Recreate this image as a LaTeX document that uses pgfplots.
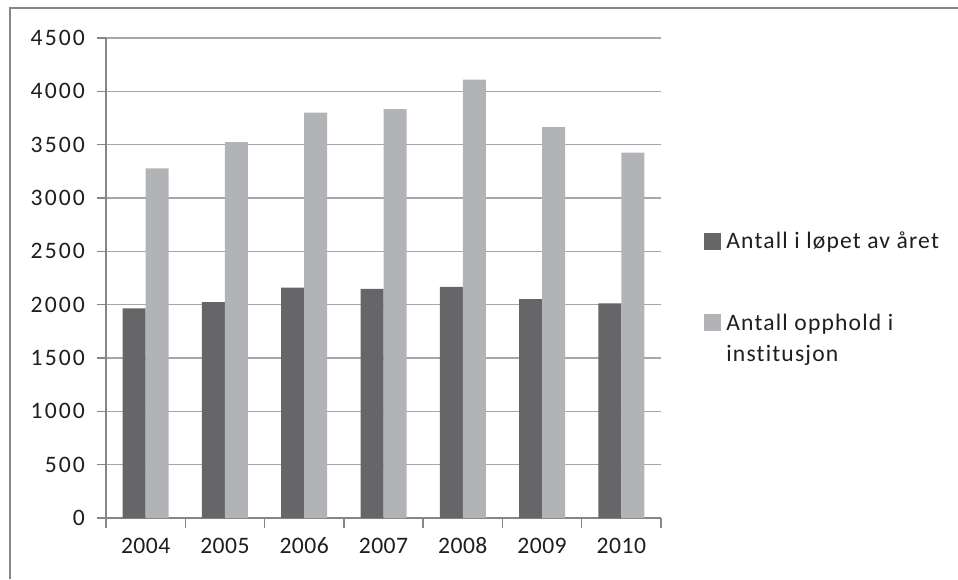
\documentclass[border=0pt]{standalone}
\usepackage{fontspec}
\setmainfont[Ligatures=NoCommon]{Carlito}
\newfontfamily\ysp[LetterSpace=9,Ligatures=NoCommon]{Carlito}
\newfontfamily\xsp[LetterSpace=2,Ligatures=NoCommon]{Carlito}
\newfontfamily\lsp[LetterSpace=5,Ligatures=NoCommon]{Carlito}
\usepackage{pgfplots}
\pgfplotsset{compat=1.18}
\definecolor{darkbar}{RGB}{102,102,104}
\definecolor{lightbar}{RGB}{178,179,183}
\definecolor{gridc}{RGB}{166,166,166}
\definecolor{axc}{RGB}{134,134,134}
\definecolor{txt}{RGB}{30,30,30}
\begin{document}
\begin{tikzpicture}
\path[use as bounding box] (0,0) rectangle (479pt,289.5pt);
\draw[axc, line width=0.75pt] (5pt,0) -- (5pt,285.5pt) -- (479pt,285.5pt);
\begin{axis}[
  at={(53pt,30.5pt)}, anchor=south west,
  scale only axis, width=277.5pt, height=240pt,
  xmin=-0.5, xmax=6.5, ymin=0, ymax=4500,
  ytick={0,500,...,4500},
  xtick={0,...,6}, xticklabels={2004,2005,2006,2007,2008,2009,2010},
  minor xtick={-0.5,0.5,...,6.5},
  axis lines=left,
  axis line style={-, axc, line width=0.75pt},
  ymajorgrids, major grid style={gridc, line width=0.75pt},
  tick align=outside,
  major tick length=4.5pt, minor tick length=5pt,
  every major x tick/.append style={draw=none},
  every minor x tick/.append style={axc, line width=0.75pt},
  every major y tick/.append style={axc, line width=0.75pt},
  ybar=0pt, bar width=11.5pt,
  tick label style={text=txt},
  /pgf/number format/assume math mode=true,
  /pgf/number format/1000 sep={},
  yticklabel style={font=\ysp\fontsize{11.8}{14}\selectfont, xshift=-2.5pt},
  xticklabel style={font=\xsp\fontsize{11.8}{14}\selectfont, text height=7.5pt, text depth=0pt, yshift=-2pt},
  legend style={at={(axis description cs:1.0667,0.613)}, anchor=north west,
    draw=none, fill=none, font=\lsp\fontsize{11.8}{15.5}\selectfont, text=txt,
    cells={anchor=base west}, /tikz/row sep=27pt, /tikz/column sep=0.5pt},
  legend image code/.code={\fill[#1] (0pt,-0.5pt) rectangle (8.5pt,8pt);},
]
\addplot[fill=darkbar, draw=none] coordinates {(0,1965) (1,2025) (2,2159) (3,2147) (4,2168) (5,2053) (6,2012)};
\addplot[fill=lightbar, draw=none] coordinates {(0,3278) (1,3524) (2,3800) (3,3833) (4,4109) (5,3665) (6,3425)};
\addlegendentry{Antall i løpet av året}
\addlegendentry{\vtop{\baselineskip=15.5pt\hbox{Antall opphold i}\hbox{institusjon}}}
\end{axis}
\end{tikzpicture}
\end{document}
